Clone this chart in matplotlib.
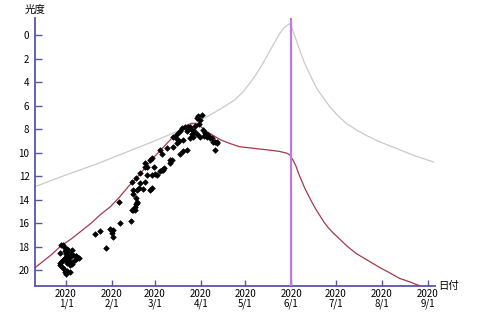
import matplotlib

matplotlib.use("Agg")
import matplotlib.pyplot as plt

plt.rcParams["font.family"] = ["Noto Sans CJK JP", "DejaVu Sans"]

# days counted from 2020-01-01
tick_days = [0, 31, 60, 91, 121, 152, 182, 213, 244]
tick_labels = ["2020\n1/1", "2020\n2/1", "2020\n3/1", "2020\n4/1", "2020\n5/1",
               "2020\n6/1", "2020\n7/1", "2020\n8/1", "2020\n9/1"]
mag_ticks = [0, 2, 4, 6, 8, 10, 12, 14, 16, 18, 20]
perihelion_day = 152

# magnitude curve as seen from the sun side (gray)
gray_days = [-21, 0, 20, 40, 60, 75, 90, 100, 108, 114, 119, 124, 128, 132, 136, 140, 144, 147,
             150, 151.5, 153, 155, 158, 161, 164, 167, 170, 174, 178, 183, 189, 195, 202, 210,
             218, 226, 236, 248]
gray_mag = [12.9, 11.9, 11.0, 10.0, 9.0, 8.2, 7.3, 6.6, 6.0, 5.5, 4.9, 4.1, 3.4, 2.6, 1.7, 0.8,
            -0.1, -0.6, -0.9, -0.95, -0.4, 0.3, 1.4, 2.4, 3.2, 4.0, 4.7, 5.4, 6.1, 6.8, 7.5, 8.0,
            8.5, 9.0, 9.4, 9.8, 10.3, 10.8]

# predicted magnitude (red)
red_days = [-21, -10, -4, 4, 10, 17, 23, 30, 36, 42, 48, 54, 60, 66, 72, 77, 81, 85, 88, 90, 95,
            100, 104, 110, 117, 124, 131, 138, 144, 149, 151, 153, 155, 157, 159, 161, 163, 165,
            168, 171, 174, 177, 180, 185, 190, 196, 204, 212, 218, 225, 232, 238, 246]
red_mag = [19.8, 18.7, 18.0, 17.3, 16.7, 16.0, 15.3, 14.6, 13.8, 12.9, 12.1, 11.2, 10.3, 9.5, 8.7,
           8.1, 7.7, 7.5, 7.55, 7.7, 8.2, 8.6, 8.9, 9.2, 9.5, 9.6, 9.7, 9.8, 9.9, 10.05, 10.2, 10.6,
           11.1, 11.8, 12.4, 13.0, 13.5, 14.0, 14.7, 15.3, 15.9, 16.4, 16.8, 17.4, 18.0, 18.6, 19.2,
           19.8, 20.2, 20.7, 21.0, 21.3, 21.8]

# observations
obs_days = [-3.3, -4, -4, -2.5, -1.5, -1, 0, 0.9, 3, 4, 8.6, 6.5, 4, -2.2, -1, 0.5, -4, 2, 7, 7.5,
            -1, 0, 1, 2, 3, -0.5, 0.5, 1.5, 2.5, 3.5, 1, 2, 0, -2, 5, 6, 3, 1, -3, 4,
            19.6, 23, 27, 30, 31, 32, 31.5, 36.4, 35.8, 44, 45, 46.5, 47, 48,
            44.3, 47, 50, 53, 54.4, 56.7, 58, 59.4, 54.4, 53.3, 50, 47.7, 49, 52, 45.4, 47, 56.7, 58,
            60, 63.4, 65.2, 66, 64.5, 63.4, 68, 70, 71.3, 72.4, 74.7, 76, 77, 79, 81.4, 72.4, 74.7, 77,
            78.5, 80, 82, 44.3, 46.5, 47.7, 45.4, 57.8, 61.2, 64.5, 53.3, 70.2, 73.5, 75.5, 79.1,
            81.4, 83.7, 87, 89.5, 92.6, 94, 96, 88.2, 86, 83.7, 90.4, 91.5, 89.3, 88.6, 90.4, 98.3,
            99.4, 101.7, 100.5, 97, 95, 84.5, 86.5, 85, 93, 100.5, 102]
obs_mag = [17.9, 18.5, 19.4, 19.7, 19.9, 20.2, 20.3, 20.1, 20.2, 19.5, 19.0, 18.8, 18.3, 17.9, 18.1, 18.2,
           19.6, 19.3, 18.8, 19.0, 18.4, 18.6, 18.5, 18.7, 18.9, 19.0, 19.2, 19.1, 18.8, 18.6, 19.4, 18.4,
           18.9, 19.1, 18.7, 19.1, 19.6, 18.3, 19.2, 19.3,
           16.9, 16.7, 18.1, 16.5, 16.8, 16.6, 17.2, 16.0, 14.2, 15.8, 14.9, 14.9, 14.4, 14.3,
           12.5, 12.2, 11.7, 10.9, 11.2, 10.6, 10.5, 11.2, 11.9, 12.5, 12.6, 13.2, 13.0, 13.1, 13.5, 13.9,
           13.2, 13.0, 11.8, 11.6, 11.5, 11.3, 10.1, 9.8, 9.6, 10.9, 10.6, 9.5, 9.2, 9.0, 10.1, 9.9, 9.8,
           8.7, 8.4, 8.2, 7.9, 7.8, 7.8, 14.9, 14.6, 14.2, 13.2, 11.9, 11.9, 11.5, 11.2, 10.6, 8.7,
           8.9, 8.9, 8.2, 7.8, 7.7, 7.6, 8.1, 8.3, 8.5, 8.4, 8.7, 8.8, 8.7, 6.8, 6.9, 7.1, 7.2, 8.8,
           9.1, 9.1, 9.8, 8.8, 8.7, 8.0, 8.2, 8.4, 8.6, 9.1, 9.2]

axis_color = "#5a55a8"

fig = plt.figure(figsize=(4.8, 3.27), dpi=100)
ax = fig.add_axes([0.073, 0.125, 0.833, 0.82])

ax.plot(gray_days, gray_mag, color="#cacaca", linewidth=0.9, zorder=2)
ax.plot(red_days, red_mag, color="#a33a4a", linewidth=0.9, zorder=3)
ax.scatter(obs_days, obs_mag, marker="D", s=8, color="black", linewidths=0.5, zorder=4)
ax.axvline(perihelion_day, color="#c07ad8", linewidth=1.6, zorder=5)

ax.set_xlim(-20.9, 248.9)
ax.set_ylim(21.36, -1.45)

ax.set_xticks(tick_days)
ax.set_xticklabels(tick_labels, fontsize=7, linespacing=1.0)
ax.set_yticks(mag_ticks)
ax.set_yticklabels([str(m) for m in mag_ticks], fontsize=7)
ax.tick_params(axis="x", direction="in", length=4, width=1, color=axis_color, pad=2)
ax.tick_params(axis="y", direction="in", length=5, width=1, color=axis_color, pad=4)

for side in ("top", "right"):
    ax.spines[side].set_visible(False)
for side in ("left", "bottom"):
    ax.spines[side].set_color(axis_color)
    ax.spines[side].set_linewidth(1.3)

fig.text(35 / 480, 1 - 10 / 327, "光度", fontsize=7.5, ha="center", va="center")
fig.text(438 / 480, 1 - 286 / 327, "日付", fontsize=7.5, ha="left", va="center")

fig.savefig("out.png", dpi=100, facecolor="white")
